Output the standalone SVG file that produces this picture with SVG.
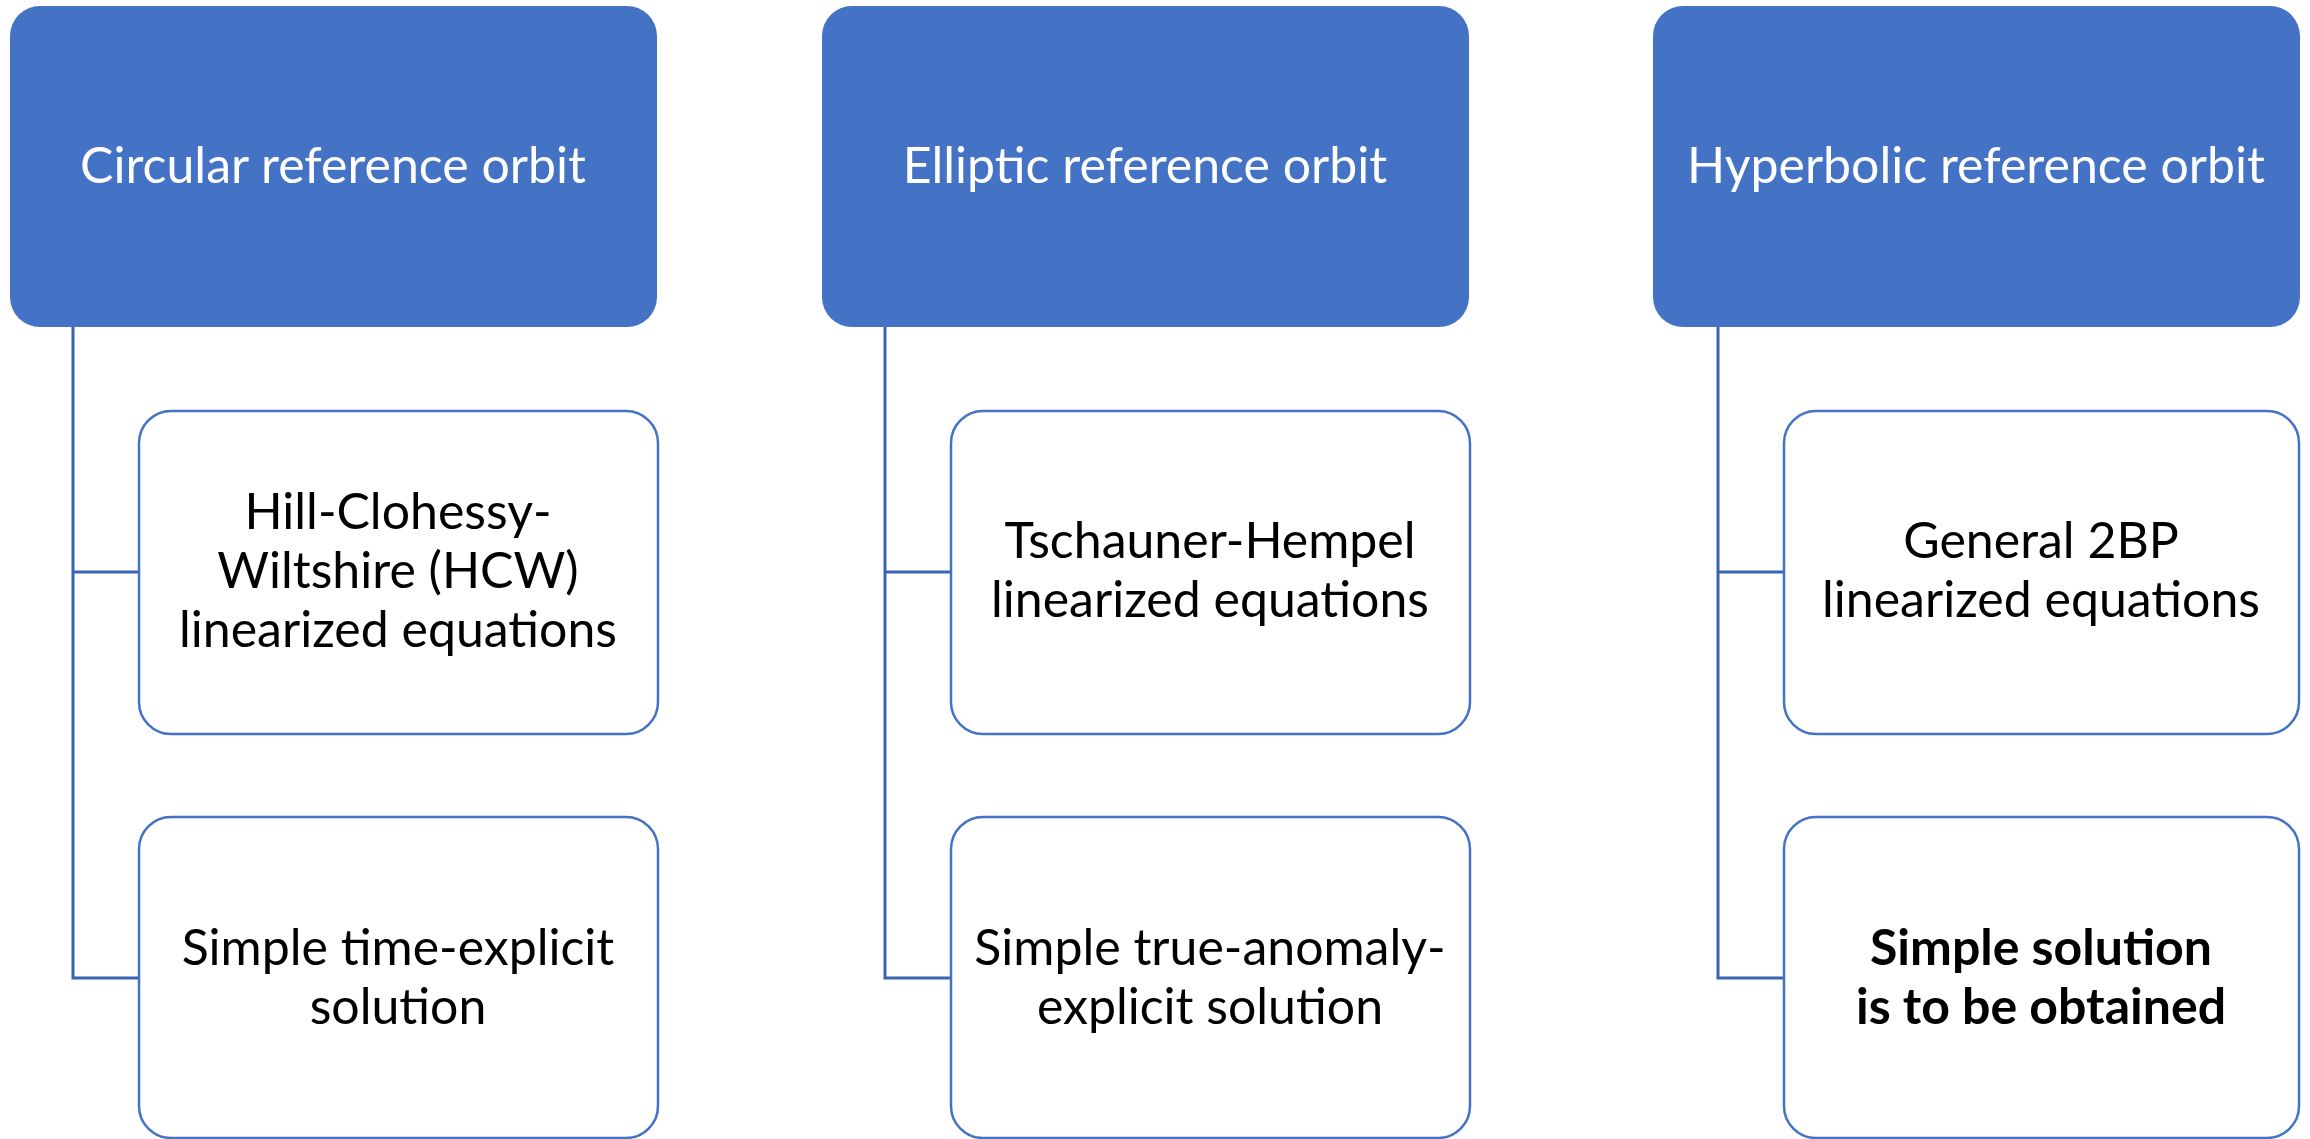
<svg xmlns="http://www.w3.org/2000/svg" width="2310" height="1139" viewBox="0 0 2310 1139">
<style>
.head rect{fill:#4472C4;stroke:none}
.head text{fill:#FFFFFF}
.child rect{fill:#FFFFFF;stroke:#4472C4;stroke-width:2.5}
.child text{fill:#000000}
text{font-family:Lato,"Open Sans",sans-serif;font-size:50px;text-anchor:middle}
.bold{font-weight:bold}
#connectors path{fill:none;stroke:#3B64B0;stroke-width:3}
</style>
<rect width="2310" height="1139" fill="#FFFFFF"/>
<g id="connectors">
<path d="M73,327 V978 H138 M73,572 H138"/>
<path d="M885,327 V978 H950 M885,572 H950"/>
<path d="M1718,327 V978 H1783 M1718,572 H1783"/>
</g>
<g id="head-circular" class="head">
<rect x="10" y="6" width="647" height="321" rx="30"/>
<text x="333" y="183">Circular reference orbit</text>
</g>
<g id="head-elliptic" class="head">
<rect x="822" y="6" width="647" height="321" rx="30"/>
<text x="1145" y="183">Elliptic reference orbit</text>
</g>
<g id="head-hyperbolic" class="head">
<rect x="1653" y="6" width="647" height="321" rx="30"/>
<text x="1976" y="183">Hyperbolic reference orbit</text>
</g>
<g id="hcw" class="child">
<rect x="139" y="411" width="519" height="323" rx="32"/>
<text x="398" y="529">Hill-Clohessy-</text>
<text x="398" y="588">Wiltshire (HCW)</text>
<text x="398" y="647">linearized equations</text>
</g>
<g id="time-explicit" class="child">
<rect x="139" y="817" width="519" height="321" rx="32"/>
<text x="398" y="965">Simple time-explicit</text>
<text x="398" y="1024">solution</text>
</g>
<g id="tschauner" class="child">
<rect x="951" y="411" width="519" height="323" rx="32"/>
<text x="1210" y="558">Tschauner-Hempel</text>
<text x="1210" y="617">linearized equations</text>
</g>
<g id="true-anomaly" class="child">
<rect x="951" y="817" width="519" height="321" rx="32"/>
<text x="1210" y="965">Simple true-anomaly-</text>
<text x="1210" y="1024">explicit solution</text>
</g>
<g id="general-2bp" class="child">
<rect x="1784" y="411" width="515" height="323" rx="32"/>
<text x="2041" y="558">General 2BP</text>
<text x="2041" y="617">linearized equations</text>
</g>
<g id="to-be-obtained" class="child">
<rect x="1784" y="817" width="515" height="321" rx="32"/>
<text class="bold" x="2041" y="965">Simple solution</text>
<text class="bold" x="2041" y="1024">is to be obtained</text>
</g>
</svg>
